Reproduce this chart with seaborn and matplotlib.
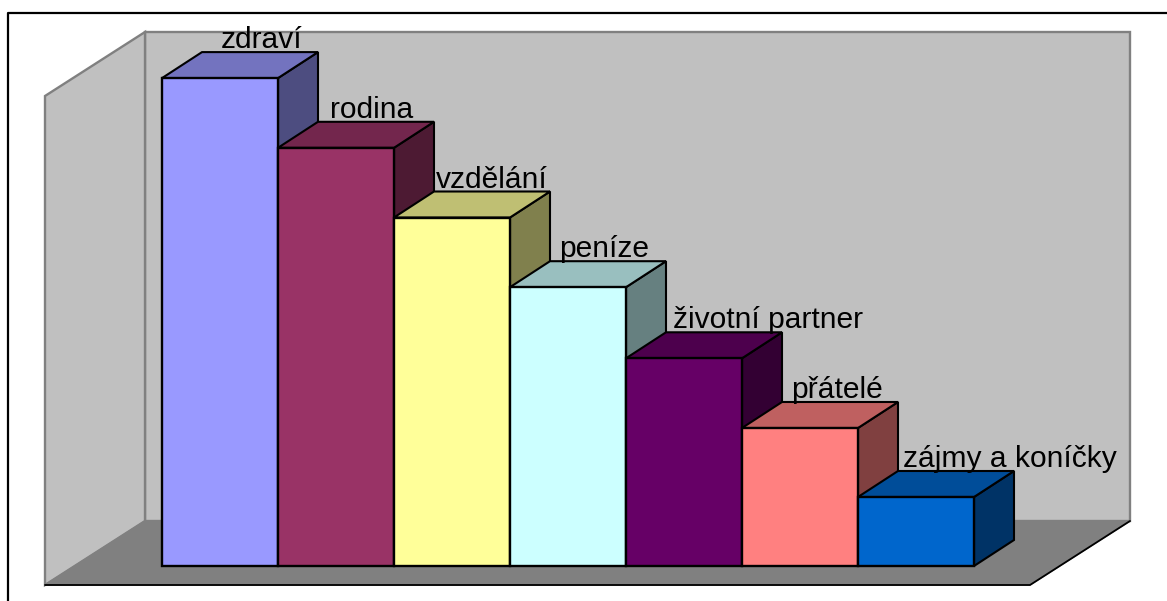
import numpy as np
import pandas as pd
import matplotlib
matplotlib.use('Agg')
import matplotlib.pyplot as plt
from matplotlib.colors import to_rgb
from matplotlib.patches import Polygon
import seaborn as sns

categories = ['zdraví', 'rodina', 'vzdělání', 'peníze', 'životní partner', 'přátelé', 'zájmy a koníčky']
values = [7, 6, 5, 4, 2.98, 1.98, 0.99]
bar_colors = ['#9999FF', '#993366', '#FFFF99', '#CCFFFF', '#660066', '#FF8080', '#0066CC']
# hand placed labels in the original, px away from the bar's back centre
label_shift = [2, -4, 0, -4, 44, -3, 54]

W, H = 1167, 601
BAR_PX = 116
UNIT_PX = 69.7
X0, BASE = 162, 566
DEPTH_X, DEPTH_Y = 40 / BAR_PX, 26 / UNIT_PX


def px(x, y):
    # image pixels to data coordinates
    return (x - X0) / BAR_PX - 0.5, (BASE - y) / UNIT_PX


def shade(color, k):
    return tuple(np.array(to_rgb(color)) * k)


sns.set_theme(style="white")
plt.rcParams['font.family'] = ['Liberation Sans', 'DejaVu Sans']

df = pd.DataFrame({'category': categories, 'value': values})

fig = plt.figure(figsize=(W / 100, H / 100), dpi=100)
ax = fig.add_axes([0, 0, 1, 1])

sns.barplot(
    data=df,
    x='category',
    y='value',
    hue='category',
    palette=bar_colors,
    order=categories,
    hue_order=categories,
    width=1,
    saturation=1,
    edgecolor='black',
    linewidth=1.7,
    legend=False,
    ax=ax
)

ax.set_xlim(px(0, 0)[0], px(W, 0)[0])
ax.set_ylim(px(0, H)[1], px(0, 0)[1])
ax.set_axis_off()

# walls and floor
wall_edge = '#808080'
back = [px(145, 32), px(1130, 32), px(1130, 521), px(145, 521)]
left = [px(45, 96), px(145, 32), px(145, 521), px(45, 585)]
floor = [px(45, 585), px(145, 521), px(1130, 521), px(1030, 585)]
ax.add_patch(Polygon(back, facecolor='#C0C0C0', edgecolor=wall_edge, linewidth=1.7, zorder=1))
ax.add_patch(Polygon(left, facecolor='#C0C0C0', edgecolor=wall_edge, linewidth=1.7, zorder=1))
ax.add_patch(Polygon(floor, facecolor='#808080', edgecolor='#808080', linewidth=1, zorder=2))
ax.plot(*zip(px(45, 585), px(1030, 585), px(1130, 521)), color='black', linewidth=1.3, zorder=3)

# chart frame, runs off the picture on the right and at the bottom
ax.plot(*zip(px(8, H + 5), px(8, 13), px(W + 5, 13)), color='black', linewidth=1.6, zorder=3)

# depth faces of the bars, left to right so each bar hides its neighbour's side
bars = [c[0] for c in ax.containers]
for i, bar in enumerate(bars):
    x0, x1 = bar.get_x(), bar.get_x() + bar.get_width()
    top = bar.get_height()
    color = bar_colors[i]
    z = 10 + i
    bar.set_zorder(z + 0.5)
    side = [(x1, 0), (x1 + DEPTH_X, DEPTH_Y), (x1 + DEPTH_X, top + DEPTH_Y), (x1, top)]
    roof = [(x0, top), (x0 + DEPTH_X, top + DEPTH_Y), (x1 + DEPTH_X, top + DEPTH_Y), (x1, top)]
    ax.add_patch(Polygon(side, facecolor=shade(color, 0.5), edgecolor='black', linewidth=1.5, zorder=z))
    ax.add_patch(Polygon(roof, facecolor=shade(color, 0.75), edgecolor='black', linewidth=1.5, zorder=z))
    ax.annotate(
        categories[i],
        ((x0 + x1) / 2 + DEPTH_X, top + DEPTH_Y),
        xytext=(label_shift[i] * 0.72, 4 * 0.72),
        textcoords='offset points',
        ha='center', va='baseline',
        fontsize=21.6,
        color='black',
        zorder=30
    )

fig.savefig('out.png', dpi=100)
